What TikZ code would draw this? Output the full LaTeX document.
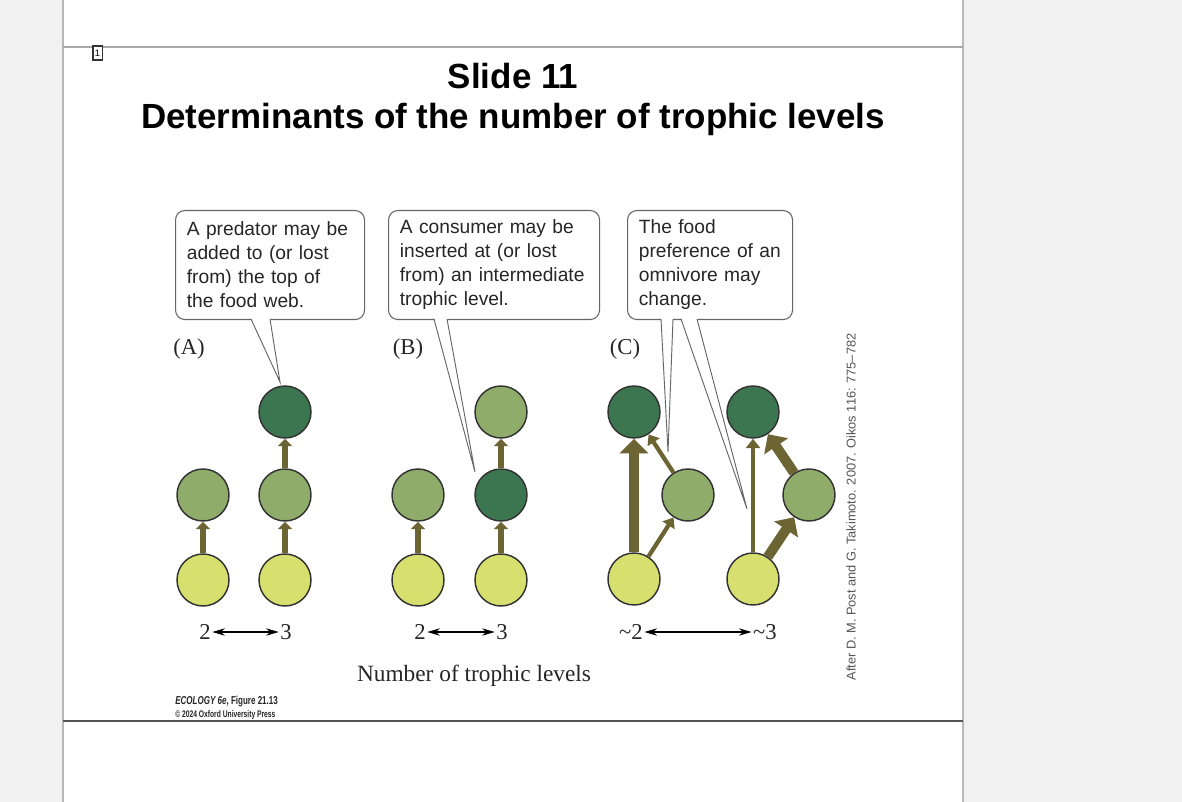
\documentclass[tikz,border=0pt]{standalone}
\usepackage{fontspec}
\setmainfont{Liberation Serif}
\setsansfont{Liberation Sans}
\newfontfamily\condfont[FakeStretch=0.7]{Liberation Sans}
\usetikzlibrary{arrows.meta}
\definecolor{bggray}{HTML}{F1F1F1}
\definecolor{edgegray}{HTML}{B8B8B8}
\definecolor{topline}{HTML}{A8A8A8}
\definecolor{botline}{HTML}{555555}
\definecolor{dkg}{HTML}{3C7650}
\definecolor{mdg}{HTML}{8FAC6A}
\definecolor{ltg}{HTML}{D7DF6F}
\definecolor{olive}{HTML}{6C6533}
\definecolor{credit}{HTML}{555555}
\tikzset{
  circ/.style={circle, draw=black!80, line width=1.1pt, minimum size=39pt, inner sep=0pt},
  arrAB/.style={draw=olive, line width=3.8pt, -{Triangle[width=10.5pt,length=5.5pt]}},
  thinarr/.style={draw=olive, line width=3.2pt, -{Triangle[width=10.5pt,length=7pt]}},
  thickarr/.style={draw=olive, line width=7.5pt, -{Triangle[width=21pt,length=11pt]}},
  callbox/.style={draw=black!60, line width=0.8pt, fill=white, rounded corners=7pt, anchor=north west,
    align=left, inner xsep=8.5pt, font=\sffamily\fontsize{14.4}{18}\selectfont, text=black!85},
  ptrline/.style={draw=black!60, line width=0.7pt},
  panel/.style={font=\fontsize{17}{20}\selectfont, text=black!85},
  num/.style={font=\fontsize{17}{20}\selectfont, text=black!85, inner sep=1pt},
  dblarr/.style={draw=black, line width=0.9pt, {Stealth[length=9.5pt,width=5.5pt]}-{Stealth[length=9.5pt,width=5.5pt]}}
}
\begin{document}
\begin{tikzpicture}[x=0.75pt,y=-0.75pt]
\useasboundingbox (0,0) rectangle (1182,802);
\fill[bggray] (0,0) rectangle (1182,802);
\fill[white] (63,0) rectangle (963,802);
\draw[edgegray, line width=0.9pt] (63,0) -- (63,802);
\draw[edgegray, line width=0.9pt] (963,0) -- (963,802);
\draw[topline, line width=1.5pt] (63,47) -- (963,47);
\draw[botline, line width=1.2pt] (63,721) -- (963,721);
\node[draw=black!80, line width=1pt, fill=white, inner sep=0.5pt, minimum width=7pt, minimum height=10.5pt, font=\sffamily\fontsize{7}{8}\selectfont] (pg) at (97.5,53) {1};

% title
\node[font=\sffamily\bfseries\fontsize{26.2}{30}\selectfont] (t1) at (513,76) {Slide 11};
\node[font=\sffamily\bfseries\fontsize{26.2}{30}\selectfont] (t2) at (513,119) {Determinants of the number of trophic levels};

% callout boxes
\node[callbox, minimum width=141.75pt, minimum height=81.75pt, text width=124.75pt] (boxA) at (175,210)
  {A predator may be\\added to (or lost\\from) the top of\\the food web.};
\node[callbox, minimum width=158.25pt, minimum height=81.75pt, text width=141.25pt] (boxB) at (388,210)
  {A consumer may be\\inserted at (or lost\\from) an intermediate\\trophic level.};
\node[callbox, minimum width=123.75pt, minimum height=81.75pt, text width=106.75pt] (boxC) at (627,210)
  {The food\\preference of an\\omnivore may\\change.};

% pointers
\coordinate (pAl) at (251,319); \coordinate (pAr) at (270,319); \coordinate (pAt) at (280,382);
\coordinate (pBl) at (434,319); \coordinate (pBr) at (447,319); \coordinate (pBt) at (475,472);
\coordinate (pCl) at (661,319); \coordinate (pCr) at (673,319); \coordinate (pCt) at (668,452);
\coordinate (pDl) at (681,319); \coordinate (pDr) at (697,319); \coordinate (pDt) at (747,509);
\foreach \p in {A,B,C,D}{
  \fill[white] ([yshift=1.5pt]p\p l) -- (p\p t) -- ([yshift=1.5pt]p\p r) -- cycle;
  \draw[ptrline] (p\p l) -- (p\p t) -- (p\p r);
}

% panel labels
\node[panel] (labA) at (189,349) {(A)};
\node[panel] (labB) at (408,349) {(B)};
\node[panel] (labC) at (625,349) {(C)};

% nodes panel A
\node[circ, fill=mdg] (a2) at (203,495) {};
\node[circ, fill=ltg] (a1) at (203,580) {};
\node[circ, fill=dkg] (b3) at (285,412) {};
\node[circ, fill=mdg] (b2) at (285,495) {};
\node[circ, fill=ltg] (b1) at (285,580) {};
% panel B
\node[circ, fill=mdg] (c2) at (418,495) {};
\node[circ, fill=ltg] (c1) at (418,580) {};
\node[circ, fill=mdg] (d3) at (501,412) {};
\node[circ, fill=dkg] (d2) at (501,495) {};
\node[circ, fill=ltg] (d1) at (501,580) {};
% panel C
\node[circ, fill=dkg] (e3) at (634,412) {};
\node[circ, fill=mdg] (e2) at (688,495) {};
\node[circ, fill=ltg] (e1) at (634,579) {};
\node[circ, fill=dkg] (f3) at (753,412) {};
\node[circ, fill=mdg] (f2) at (809,495) {};
\node[circ, fill=ltg] (f1) at (753,579) {};

% arrows
\draw[arrAB] (a1) -- (a2);
\draw[arrAB] (b1) -- (b2);
\draw[arrAB] (b2) -- (b3);
\draw[arrAB] (c1) -- (c2);
\draw[arrAB] (d1) -- (d2);
\draw[arrAB] (d2) -- (d3);
\draw[thickarr] (e1) -- (e3);
\draw[thinarr] (e1) -- (e2);
\draw[thinarr] (e2) -- (e3);
\draw[thinarr] (f1) -- (f3);
\draw[thickarr] (f1) -- (f2);
\draw[thickarr] (f2) -- (f3);

% number labels
\node[num] (nA2) at (205,632) {2};
\node[num] (nA3) at (286,632) {3};
\draw[dblarr] (nA2) -- (nA3);
\node[num] (nB2) at (420,632) {2};
\node[num] (nB3) at (502,632) {3};
\draw[dblarr] (nB2) -- (nB3);
\node[num] (nC2) at (631,632) {\textasciitilde 2};
\node[num] (nC3) at (765,632) {\textasciitilde 3};
\draw[dblarr] (nC2) -- (nC3);

\node[font=\fontsize{17.5}{20}\selectfont, text=black!85] (axis) at (474,676) {Number of trophic levels};

\node[rotate=90, font=\sffamily\fontsize{9.6}{11}\selectfont, text=credit] (cred) at (851,507)
  {After D. M. Post and G. Takimoto. 2007. Oikos 116: 775–782};

\node[anchor=north west, align=left, inner sep=0pt, font=\condfont\bfseries\fontsize{8.6}{9.5}\selectfont, text=black!85] (foot) at (175,696)
  {\textit{ECOLOGY 6e}, Figure 21.13\\{\fontsize{7.2}{8}\selectfont © 2024 Oxford University Press}};
\end{tikzpicture}
\end{document}
